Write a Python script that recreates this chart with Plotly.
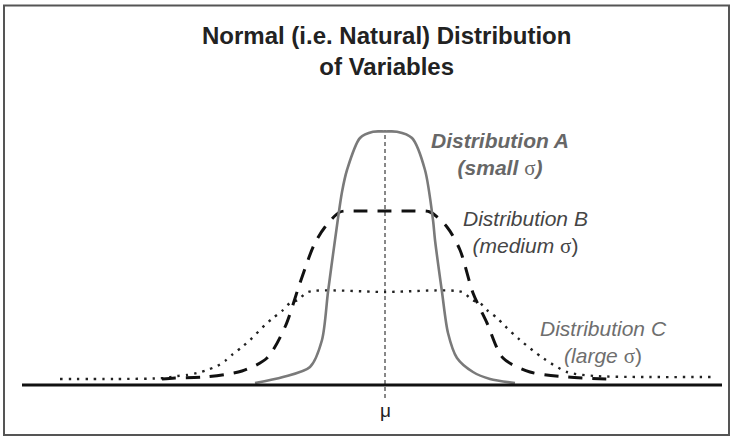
import plotly.graph_objects as go

# Curve values: horizontal offset from the mean (mu at 0) and curve height, same arbitrary units
a_x = [-13.0, -10.2, -7.5, -6.3, -5.7, -5.0, -4.3, -3.8, -2.5, -1.2, 0.0,
       1.2, 2.7, 4.0, 4.8, 5.0, 5.7, 6.3, 7.2, 8.8, 10.5, 13.0]
a_y = [0.2, 0.8, 1.8, 4.5, 9.3, 14.5, 19.3, 21.5, 24.7, 25.33, 25.35,
       25.33, 24.7, 21.5, 16.5, 14.5, 9.3, 5.2, 2.7, 1.3, 0.6, 0.2]

b_x = [-22.3, -21.0, -18.0, -14.3, -11.8, -10.0, -8.5, -7.1, -6.0, -4.5, -3.0, 0.0,
       3.0, 4.5, 6.2, 7.5, 8.8, 10.2, 11.8, 14.5, 18.2, 22.3]
b_y = [0.6, 0.7, 0.8, 1.4, 2.7, 5.8, 10.2, 14.0, 15.8, 17.3, 17.4, 17.4,
       17.4, 17.3, 15.8, 13.5, 9.2, 6.2, 2.7, 1.3, 0.8, 0.6]

c_x = [-32.5, -27.0, -22.0, -20.8, -19.8, -18.8, -17.8, -16.8, -16.0, -15.2, -14.3,
       -13.5, -12.0, -11.2, -10.3, -9.5, -8.7, -7.7, 0.0, 7.7, 8.7, 9.5, 10.3,
       11.2, 12.0, 13.5, 15.8, 18.2, 21.0, 26.0, 32.6]
c_y = [0.6, 0.6, 0.7, 0.9, 1.0, 1.2, 1.5, 1.9, 2.4, 3.1, 3.8,
       4.5, 6.0, 6.7, 7.4, 8.2, 8.5, 9.3, 9.3, 9.3, 8.5, 8.2, 7.4,
       6.7, 5.9, 4.5, 2.7, 1.3, 0.9, 0.8, 0.8]

mu = 0.0
axis_x = [-36.3, 33.7]
title_lines = ["Normal (i.e. Natural) Distribution", "of Variables"]

W, H = 730, 436


def px(x):
    return x / W


def py(y):
    return 1 - y / H


fig = go.Figure()

fig.add_trace(go.Scatter(x=c_x, y=c_y, mode="lines",
                         line=dict(color="#222222", width=2.4, dash="2.4px,6px",
                                   shape="spline", smoothing=0.8),
                         hoverinfo="skip"))
fig.add_trace(go.Scatter(x=b_x, y=b_y, mode="lines",
                         line=dict(color="#111111", width=3, dash="14px,10px",
                                   shape="spline", smoothing=0.8),
                         hoverinfo="skip"))
fig.add_trace(go.Scatter(x=a_x, y=a_y, mode="lines",
                         line=dict(color="#7a7a7a", width=2.6,
                                   shape="spline", smoothing=0.8),
                         hoverinfo="skip"))

# baseline
fig.add_shape(type="line", xref="x", yref="y", x0=axis_x[0], x1=axis_x[1], y0=0, y1=0,
              line=dict(color="#111111", width=3), layer="above")
# mean marker
fig.add_shape(type="line", xref="x", yref="y", x0=mu, x1=mu, y0=-1.3, y1=25.5,
              line=dict(color="#111111", width=1, dash="4px,3px"), layer="below")
# frame
fig.add_shape(type="rect", xref="paper", yref="paper",
              x0=px(4), x1=px(729), y0=py(435), y1=py(5.5),
              line=dict(color="#555555", width=2))

sig = "<span style='font-family:Liberation Serif;font-weight:normal;font-style:normal'>σ</span>"

annos = [
    dict(text="<b>" + "<br>".join(title_lines) + "</b>", x=px(386), y=py(51),
         font=dict(size=24, color="#222222")),
    dict(text="<b><i>Distribution A</i></b><br><b><i>(small</i></b> " + sig + "<b><i>)</i></b>",
         x=px(500), y=py(155), font=dict(size=21, color="#676767")),
    dict(text="<i>Distribution B</i><br><i>(medium</i> " + sig + ")",
         x=px(525), y=py(233), font=dict(size=21, color="#454545")),
    dict(text="<i>Distribution C</i><br><i>(large</i> " + sig + ")",
         x=px(603), y=py(342), font=dict(size=21, color="#6e6e6e")),
    dict(text="μ", x=px(385), y=py(410), font=dict(size=19, color="#222222")),
]
for a in annos:
    fig.add_annotation(xref="paper", yref="paper", showarrow=False,
                       xanchor="center", yanchor="middle", align="center",
                       font_family="Liberation Sans, Arial, Helvetica, sans-serif",
                       **{k: v for k, v in a.items()})

fig.update_layout(
    width=W, height=H,
    margin=dict(l=0, r=0, t=0, b=0),
    paper_bgcolor="white", plot_bgcolor="white",
    showlegend=False,
    xaxis=dict(range=[-38.5, 34.5], visible=False, fixedrange=True),
    yaxis=dict(range=[-5.1, 38.5], visible=False, fixedrange=True),
    font=dict(family="Liberation Sans, Arial, Helvetica, sans-serif"),
)

fig.write_html("out.html")
